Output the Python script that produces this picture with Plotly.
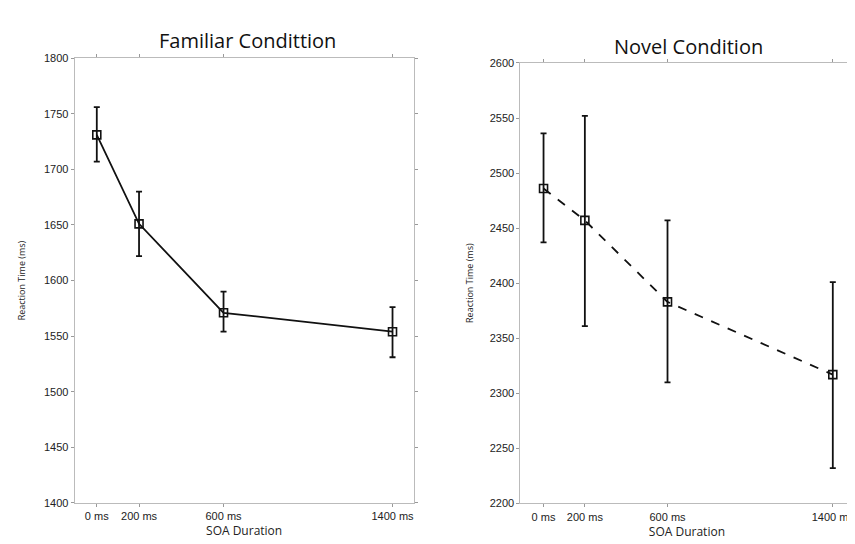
import plotly.graph_objects as go

soa_ms = [0, 200, 600, 1400]
soa_labels = ["0 ms", "200 ms", "600 ms", "1400 ms"]

familiar_rt = [1731, 1651, 1571, 1554]
familiar_err_plus = [25, 29, 19, 22]
familiar_err_minus = [24, 29, 17, 23]

novel_rt = [2486, 2457, 2383, 2317]
novel_err_plus = [50, 95, 74, 84]
novel_err_minus = [49, 96, 73, 85]

fig = go.Figure()

fig.add_trace(go.Scatter(
    x=soa_ms, y=familiar_rt, mode="lines+markers",
    line=dict(color="#111", width=1.8),
    marker=dict(symbol="square-open", size=8, color="#111", line=dict(width=1.6)),
    error_y=dict(type="data", symmetric=False, array=familiar_err_plus,
                 arrayminus=familiar_err_minus, color="#111", thickness=1.8, width=3),
    xaxis="x", yaxis="y", showlegend=False))

fig.add_trace(go.Scatter(
    x=soa_ms, y=novel_rt, mode="lines+markers",
    line=dict(color="#111", width=1.8, dash="dash"),
    marker=dict(symbol="square-open", size=8, color="#111", line=dict(width=1.6)),
    error_y=dict(type="data", symmetric=False, array=novel_err_plus,
                 arrayminus=novel_err_minus, color="#111", thickness=1.8, width=3),
    xaxis="x2", yaxis="y2", showlegend=False))

tick_font = dict(family="Liberation Sans, Arial", size=11, color="#222")
axis_common = dict(showgrid=False, zeroline=False, showline=True, linecolor="#bbb",
                   linewidth=1, mirror="ticks", ticks="outside", ticklen=3,
                   tickcolor="#999", tickfont=tick_font)
xtitle_font = dict(family="Open Sans", size=12, color="#222")
ytitle_font = dict(family="Open Sans", size=9, color="#222")

fig.update_layout(
    width=855, height=544,
    margin=dict(l=0, r=0, t=0, b=0),
    paper_bgcolor="white", plot_bgcolor="white",
    xaxis=dict(domain=[0.078, 0.475], range=[-105, 1500], tickvals=soa_ms, ticktext=soa_labels,
               title=dict(text="SOA Duration", font=xtitle_font, standoff=4),
               anchor="y", **axis_common),
    yaxis=dict(domain=[0.081, 0.917], range=[1400, 1800], tickvals=list(range(1400, 1801, 50)),
               title=dict(text="Reaction Time (ms)", font=ytitle_font, standoff=16),
               anchor="x", **axis_common),
    xaxis2=dict(domain=[0.6, 0.99], range=[-112, 1500], tickvals=soa_ms, ticktext=soa_labels,
                title=dict(text="SOA Duration", font=xtitle_font, standoff=2),
                anchor="y2", **axis_common),
    yaxis2=dict(domain=[0.08, 0.908], range=[2200, 2600], tickvals=list(range(2200, 2601, 50)),
                title=dict(text="Reaction Time (ms)", font=ytitle_font, standoff=14),
                anchor="x2", **axis_common),
    annotations=[
        dict(text="Familiar Condittion", x=240 / 855, y=1 - 27 / 544, xref="paper", yref="paper",
             xanchor="center", yanchor="middle",
             showarrow=False, font=dict(family="Open Sans", size=20, color="#111")),
        dict(text="Novel Condition", x=681 / 855, y=1 - 33 / 544, xref="paper", yref="paper",
             xanchor="center", yanchor="middle",
             showarrow=False, font=dict(family="Open Sans", size=20, color="#111")),
    ],
)

fig.write_html("out.html")
